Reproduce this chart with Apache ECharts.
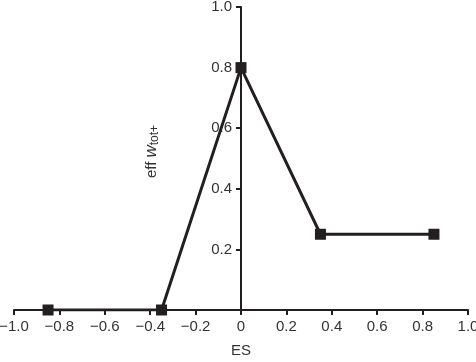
<!DOCTYPE html>
<html>
<head>
<meta charset="utf-8">
<script src="https://cdn.jsdelivr.net/npm/echarts@6/dist/echarts.min.js"></script>
<style>
html, body { margin: 0; padding: 0; background: #fff; }
#chart { width: 476px; height: 362px; }
</style>
</head>
<body>
<div id="chart"></div>
<script>
// data
var esValues = [-0.85, -0.35, 0, 0.35, 0.85];
var effValues = [0, 0, 0.8, 0.25, 0.25];
var xTicks = { min: -1, max: 1, step: 0.2 };
var yTicks = { min: 0, max: 1, step: 0.2 };

var ink = '#231f20';
var seriesData = esValues.map(function (x, i) { return [x, effValues[i]]; });

function fmt(v) {
    var s = Math.abs(v) < 1e-9 ? '0' : v.toFixed(1);
    return s.replace('-', '\u2212');
}

var plotLeft = 14, plotRight = 8;
var plotWidth = 476 - plotLeft - plotRight;
// shift y axis to sit on ES = 0
var yShift = -plotWidth * (0 - xTicks.min) / (xTicks.max - xTicks.min);

var chart = echarts.init(document.getElementById('chart'));
chart.setOption({
    animation: false,
    textStyle: { fontFamily: 'Liberation Sans, Arial, sans-serif' },
    grid: { left: plotLeft, right: plotRight, top: 7, bottom: 52, containLabel: false, outerBoundsMode: 'none' },
    xAxis: {
        type: 'value',
        min: xTicks.min,
        max: xTicks.max,
        interval: xTicks.step,
        name: 'ES',
        nameLocation: 'middle',
        nameGap: 33,
        nameTextStyle: { color: '#333', fontSize: 15 },
        axisLine: { lineStyle: { color: ink, width: 2 } },
        axisTick: { inside: false, length: 5, lineStyle: { color: ink, width: 2 } },
        axisLabel: { color: '#333', fontSize: 15, margin: 9, formatter: fmt },
        splitLine: { show: false }
    },
    yAxis: {
        type: 'value',
        position: 'left',
        offset: yShift,
        min: yTicks.min,
        max: yTicks.max,
        interval: yTicks.step,
        name: '{n|eff }{w|w}{s|tot+}',
        nameLocation: 'middle',
        nameGap: 80,
        nameTextStyle: {
            padding: [0, 0, 0, 14],
            rich: {
                n: { fontSize: 15, color: '#333' },
                w: { fontSize: 17, color: '#333', fontStyle: 'italic' },
                s: { fontSize: 12, color: '#333', verticalAlign: 'bottom', padding: [7, 0, 0, 0] }
            }
        },
        axisLine: { onZero: false, lineStyle: { color: ink, width: 2 } },
        axisTick: { length: 5, lineStyle: { color: ink, width: 2 } },
        axisLabel: {
            color: '#333', fontSize: 15, margin: 9,
            formatter: function (v) { return v === 0 ? '' : v.toFixed(1); }
        },
        splitLine: { show: false }
    },
    series: [{
        type: 'line',
        data: seriesData,
        symbol: 'rect',
        symbolSize: 11,
        lineStyle: { color: ink, width: 3 },
        itemStyle: { color: ink },
        z: 5
    }]
});
</script>
</body>
</html>
